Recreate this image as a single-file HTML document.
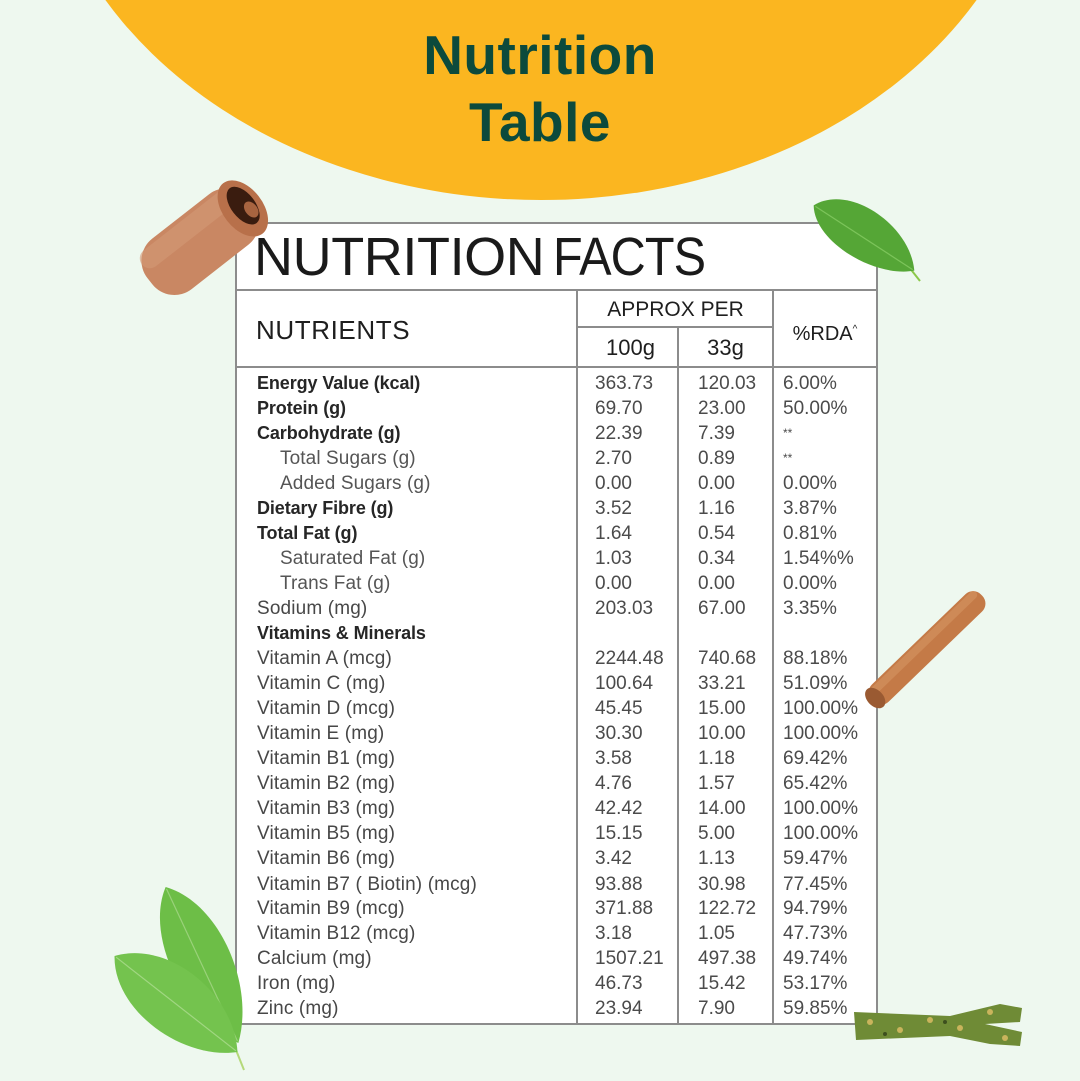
<!DOCTYPE html>
<html><head><meta charset="utf-8">
<style>
html,body{margin:0;padding:0}
body{width:1080px;height:1080px;position:relative;overflow:hidden;background:#eef8ef;font-family:"Liberation Sans",sans-serif}
.abs{position:absolute;white-space:nowrap}
.ttl{position:absolute;left:0;width:1080px;text-align:center;font-weight:bold;color:#0c4a3c;font-size:55px;line-height:60px;letter-spacing:0.5px}
.tbl{position:absolute;left:235px;top:222px;width:643px;height:803px;box-sizing:border-box;border:2px solid #8c8c8c;background:#fff}
.h{position:absolute;height:2px;background:#8c8c8c}
.v{position:absolute;width:2px;background:#8c8c8c}
.r{position:absolute;height:25px;line-height:25px;white-space:nowrap}
.lb{left:257px;font-size:18px;font-weight:bold;color:#262626;letter-spacing:-0.1px}
.lr{left:257px;font-size:19px;color:#474747;letter-spacing:0.15px}
.li{left:280px;font-size:19px;color:#555;letter-spacing:0.1px}
.n1{left:595px;font-size:19px;color:#4b4b4b}
.n2{left:698px;font-size:19px;color:#4b4b4b}
.n3{left:783px;font-size:19px;color:#4b4b4b}
.ast{font-size:12px;vertical-align:5px}
</style></head><body>
<svg class="abs" style="left:0;top:0" width="1080" height="1080">
<ellipse cx="541" cy="-200" rx="503" ry="400" fill="#fbb620"/>
</svg>
<div class="ttl" style="top:25px;">Nutrition</div>
<div class="ttl" style="top:92px;">Table</div>

<div class="tbl"></div>
<div class="h" style="left:236px;top:289px;width:641px"></div>
<div class="h" style="left:577px;top:326px;width:197px"></div>
<div class="h" style="left:236px;top:366px;width:641px"></div>
<div class="v" style="left:576px;top:290px;height:734px"></div>
<div class="v" style="left:677px;top:327px;height:697px"></div>
<div class="v" style="left:772px;top:290px;height:734px"></div>

<div class="abs" style="left:254px;top:227px;font-size:54px;line-height:60px;color:#1a1a1a;letter-spacing:-0.4px">NUTRITION</div>
<div class="abs" style="left:553px;top:227px;font-size:54px;line-height:60px;color:#1a1a1a;letter-spacing:-1px;transform:scaleX(0.9);transform-origin:0 0">FACTS</div>

<div class="abs" style="left:256px;top:315px;font-size:26px;line-height:30px;color:#1e1e1e;letter-spacing:0.6px">NUTRIENTS</div>
<div class="abs" style="left:577px;width:197px;text-align:center;top:296px;font-size:21px;line-height:28px;color:#1e1e1e">APPROX PER</div>
<div class="abs" style="left:577px;width:101px;text-align:center;top:334px;font-size:22px;line-height:28px;color:#1e1e1e;padding-left:3px">100g</div>
<div class="abs" style="left:678px;width:95px;text-align:center;top:334px;font-size:22px;line-height:28px;color:#1e1e1e">33g</div>
<div class="abs" style="left:773px;width:104px;text-align:center;top:316px;font-size:20px;line-height:28px;color:#1e1e1e">%RDA<span style="font-size:10px;vertical-align:8px">^</span></div>

<div style="position:absolute;left:0;top:1px;width:1080px;height:1080px">
<div class="r lb" style="top:370px">Energy Value (kcal)</div><div class="r n1" style="top:370px">363.73</div><div class="r n2" style="top:370px">120.03</div><div class="r n3" style="top:370px">6.00%</div>
<div class="r lb" style="top:395px">Protein (g)</div><div class="r n1" style="top:395px">69.70</div><div class="r n2" style="top:395px">23.00</div><div class="r n3" style="top:395px">50.00%</div>
<div class="r lb" style="top:420px">Carbohydrate (g)</div><div class="r n1" style="top:420px">22.39</div><div class="r n2" style="top:420px">7.39</div><div class="r n3" style="top:420px"><span class="ast">**</span></div>
<div class="r li" style="top:445px">Total Sugars (g)</div><div class="r n1" style="top:445px">2.70</div><div class="r n2" style="top:445px">0.89</div><div class="r n3" style="top:445px"><span class="ast">**</span></div>
<div class="r li" style="top:470px">Added Sugars (g)</div><div class="r n1" style="top:470px">0.00</div><div class="r n2" style="top:470px">0.00</div><div class="r n3" style="top:470px">0.00%</div>
<div class="r lb" style="top:495px">Dietary Fibre (g)</div><div class="r n1" style="top:495px">3.52</div><div class="r n2" style="top:495px">1.16</div><div class="r n3" style="top:495px">3.87%</div>
<div class="r lb" style="top:520px">Total Fat (g)</div><div class="r n1" style="top:520px">1.64</div><div class="r n2" style="top:520px">0.54</div><div class="r n3" style="top:520px">0.81%</div>
<div class="r li" style="top:545px">Saturated Fat (g)</div><div class="r n1" style="top:545px">1.03</div><div class="r n2" style="top:545px">0.34</div><div class="r n3" style="top:545px">1.54%%</div>
<div class="r li" style="top:570px">Trans Fat (g)</div><div class="r n1" style="top:570px">0.00</div><div class="r n2" style="top:570px">0.00</div><div class="r n3" style="top:570px">0.00%</div>
<div class="r lr" style="top:595px">Sodium (mg)</div><div class="r n1" style="top:595px">203.03</div><div class="r n2" style="top:595px">67.00</div><div class="r n3" style="top:595px">3.35%</div>
<div class="r lb" style="top:620px">Vitamins &amp; Minerals</div>
<div class="r lr" style="top:645px">Vitamin A (mcg)</div><div class="r n1" style="top:645px">2244.48</div><div class="r n2" style="top:645px">740.68</div><div class="r n3" style="top:645px">88.18%</div>
<div class="r lr" style="top:670px">Vitamin C (mg)</div><div class="r n1" style="top:670px">100.64</div><div class="r n2" style="top:670px">33.21</div><div class="r n3" style="top:670px">51.09%</div>
<div class="r lr" style="top:695px">Vitamin D (mcg)</div><div class="r n1" style="top:695px">45.45</div><div class="r n2" style="top:695px">15.00</div><div class="r n3" style="top:695px">100.00%</div>
<div class="r lr" style="top:720px">Vitamin E (mg)</div><div class="r n1" style="top:720px">30.30</div><div class="r n2" style="top:720px">10.00</div><div class="r n3" style="top:720px">100.00%</div>
<div class="r lr" style="top:745px">Vitamin B1 (mg)</div><div class="r n1" style="top:745px">3.58</div><div class="r n2" style="top:745px">1.18</div><div class="r n3" style="top:745px">69.42%</div>
<div class="r lr" style="top:770px">Vitamin B2 (mg)</div><div class="r n1" style="top:770px">4.76</div><div class="r n2" style="top:770px">1.57</div><div class="r n3" style="top:770px">65.42%</div>
<div class="r lr" style="top:795px">Vitamin B3 (mg)</div><div class="r n1" style="top:795px">42.42</div><div class="r n2" style="top:795px">14.00</div><div class="r n3" style="top:795px">100.00%</div>
<div class="r lr" style="top:820px">Vitamin B5 (mg)</div><div class="r n1" style="top:820px">15.15</div><div class="r n2" style="top:820px">5.00</div><div class="r n3" style="top:820px">100.00%</div>
<div class="r lr" style="top:845px">Vitamin B6 (mg)</div><div class="r n1" style="top:845px">3.42</div><div class="r n2" style="top:845px">1.13</div><div class="r n3" style="top:845px">59.47%</div>
<div class="r lr" style="top:871px">Vitamin B7 ( Biotin) (mcg)</div><div class="r n1" style="top:871px">93.88</div><div class="r n2" style="top:871px">30.98</div><div class="r n3" style="top:871px">77.45%</div>
<div class="r lr" style="top:895px">Vitamin B9 (mcg)</div><div class="r n1" style="top:895px">371.88</div><div class="r n2" style="top:895px">122.72</div><div class="r n3" style="top:895px">94.79%</div>
<div class="r lr" style="top:920px">Vitamin B12 (mcg)</div><div class="r n1" style="top:920px">3.18</div><div class="r n2" style="top:920px">1.05</div><div class="r n3" style="top:920px">47.73%</div>
<div class="r lr" style="top:945px">Calcium (mg)</div><div class="r n1" style="top:945px">1507.21</div><div class="r n2" style="top:945px">497.38</div><div class="r n3" style="top:945px">49.74%</div>
<div class="r lr" style="top:970px">Iron (mg)</div><div class="r n1" style="top:970px">46.73</div><div class="r n2" style="top:970px">15.42</div><div class="r n3" style="top:970px">53.17%</div>
<div class="r lr" style="top:995px">Zinc (mg)</div><div class="r n1" style="top:995px">23.94</div><div class="r n2" style="top:995px">7.90</div><div class="r n3" style="top:995px">59.85%</div>
</div>

<svg class="abs" style="left:0;top:0" width="1080" height="1080">
<!-- top-left cinnamon roll -->
<g transform="translate(205,238) rotate(-38)">
<rect x="-70" y="-32" width="128" height="64" rx="28" fill="#c98763"/>
<rect x="-66" y="-28" width="116" height="20" rx="10" fill="#d49a76" opacity="0.6"/>
<ellipse cx="48" cy="0" rx="20" ry="32" fill="#b8704a"/>
<ellipse cx="50" cy="-2" rx="12" ry="22" fill="#3a1c0f"/>
<ellipse cx="54" cy="6" rx="6" ry="9" fill="#a86440"/>
</g>
<!-- top-right leaf -->
<line x1="905" y1="262" x2="920" y2="281" stroke="#8cc84a" stroke-width="2"/>
<g transform="translate(864,238) rotate(33)">
<path d="M-60 0 C-42 -38 32 -36 60 0 C30 28 -40 30 -60 0 Z" fill="#55a636"/>
<path d="M-58 0 L58 0" stroke="#7cc45a" stroke-width="1.2"/>
</g>
<!-- right cinnamon stick -->
<g transform="translate(927,648) rotate(-44)">
<rect x="-76" y="-12" width="152" height="24" rx="11" fill="#c47a47"/>
<rect x="-74" y="-10" width="148" height="8" rx="4" fill="#d59463" opacity="0.6"/>
<ellipse cx="-72" cy="0" rx="8" ry="12" fill="#9a5a32"/>
</g>
<!-- bottom-left leaves -->
<line x1="232" y1="1040" x2="244" y2="1070" stroke="#b5d97a" stroke-width="2"/>
<g transform="translate(202,965) rotate(65)">
<path d="M-86 0 C-50 -42 40 -40 86 0 C40 38 -50 40 -86 0 Z" fill="#6dbe47"/>
<path d="M-84 0 L84 0" stroke="#9ad27a" stroke-width="1.2"/>
</g>
<g transform="translate(176,1004) rotate(38)">
<path d="M-78 0 C-45 -46 40 -44 78 0 C40 40 -45 44 -78 0 Z" fill="#74c34e"/>
<path d="M-76 0 L76 0" stroke="#a1d782" stroke-width="1.2"/>
</g>
<!-- bottom-right green stick -->
<g>
<path d="M854 1012 L950 1016 L1000 1004 L1022 1008 L1020 1022 L985 1024 L1022 1032 L1020 1046 L990 1044 L950 1036 L856 1040 Z" fill="#6f8b36"/>
<circle cx="870" cy="1022" r="3" fill="#c9b45c"/><circle cx="900" cy="1030" r="3" fill="#c9b45c"/>
<circle cx="930" cy="1020" r="3" fill="#c9b45c"/><circle cx="960" cy="1028" r="3" fill="#c9b45c"/>
<circle cx="990" cy="1012" r="3" fill="#c9b45c"/><circle cx="1005" cy="1038" r="3" fill="#c9b45c"/>
<circle cx="885" cy="1034" r="2" fill="#3d4f1e"/><circle cx="945" cy="1022" r="2" fill="#3d4f1e"/>
</g>
</svg>
</body></html>
